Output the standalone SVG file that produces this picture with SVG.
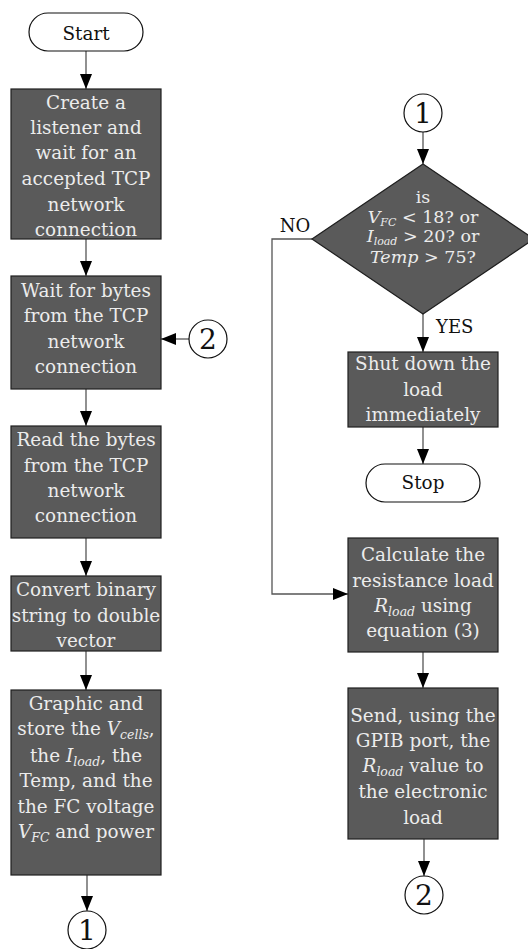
<svg xmlns="http://www.w3.org/2000/svg" width="528" height="949" viewBox="0 0 528 949" font-family="'DejaVu Serif', serif">
  <style>
    .term { fill: #ffffff; stroke: #111; stroke-width: 1.2; }
    .box { fill: #5a5a5a; stroke: #1e1e1e; stroke-width: 1.2; }
    .conn { fill: #ffffff; stroke: #111; stroke-width: 1.2; }
    .edge { fill: none; stroke: #555; stroke-width: 1.3; }
    .t { font-size: 18.4px; text-anchor: middle; }
    .d { font-size: 17.5px; text-anchor: middle; }
    .w { fill: #ececec; }
    .k { fill: #111; }
    .num { font-size: 28px; text-anchor: middle; fill: #111; }
    .lbl { font-size: 18px; fill: #111; }
    .m { font-style: italic; }
    .s { font-style: italic; font-size: 12.5px; }
    .ds { font-style: italic; font-size: 11px; }
  </style>
  <defs>
    <marker id="arrow" markerUnits="userSpaceOnUse" markerWidth="16" markerHeight="13" refX="15" refY="6" orient="auto">
      <path d="M0,0 L15,6 L0,12 z" fill="#000"/>
    </marker>
  </defs>

  <!-- connectors -->
  <g id="connectors">
    <line class="edge" x1="86" y1="51" x2="86" y2="89" marker-end="url(#arrow)"/>
    <line class="edge" x1="86" y1="239" x2="86" y2="276" marker-end="url(#arrow)"/>
    <line class="edge" x1="189" y1="339" x2="161" y2="339" marker-end="url(#arrow)"/>
    <line class="edge" x1="86" y1="389" x2="86" y2="426" marker-end="url(#arrow)"/>
    <line class="edge" x1="86" y1="538" x2="86" y2="576" marker-end="url(#arrow)"/>
    <line class="edge" x1="86" y1="651" x2="86" y2="690" marker-end="url(#arrow)"/>
    <line class="edge" x1="87" y1="875" x2="87" y2="911" marker-end="url(#arrow)"/>
    <line class="edge" x1="423" y1="132" x2="423" y2="164" marker-end="url(#arrow)"/>
    <line class="edge" x1="423" y1="314" x2="423" y2="352" marker-end="url(#arrow)"/>
    <line class="edge" x1="423" y1="427" x2="423" y2="464" marker-end="url(#arrow)"/>
    <polyline class="edge" points="312,239 272,239 272,594 348,594" marker-end="url(#arrow)"/>
    <line class="edge" x1="423" y1="652" x2="423" y2="688" marker-end="url(#arrow)"/>
    <line class="edge" x1="424" y1="839" x2="424" y2="876" marker-end="url(#arrow)"/>
    <text class="lbl" x="295" y="232" text-anchor="middle">NO</text>
    <text class="lbl" x="436" y="333">YES</text>
  </g>

  <g id="start">
    <rect class="term" x="29" y="13" width="114" height="38" rx="19"/>
    <text class="t k" x="86" y="40">Start</text>
  </g>

  <g id="listen">
    <rect class="box" x="11" y="89" width="150" height="150"/>
    <text class="t w" x="86" y="109">Create a</text>
    <text class="t w" x="86" y="134">listener and</text>
    <text class="t w" x="86" y="159">wait for an</text>
    <text class="t w" x="86" y="185">accepted TCP</text>
    <text class="t w" x="86" y="211">network</text>
    <text class="t w" x="86" y="236">connection</text>
  </g>

  <g id="wait">
    <rect class="box" x="11" y="276" width="150" height="113"/>
    <text class="t w" x="86" y="297">Wait for bytes</text>
    <text class="t w" x="86" y="322">from the TCP</text>
    <text class="t w" x="86" y="348">network</text>
    <text class="t w" x="86" y="373">connection</text>
  </g>

  <g id="conn2-in">
    <circle class="conn" cx="208" cy="339" r="19"/>
    <text class="num" x="208" y="349">2</text>
  </g>

  <g id="read">
    <rect class="box" x="11" y="426" width="150" height="112"/>
    <text class="t w" x="86" y="446">Read the bytes</text>
    <text class="t w" x="86" y="472">from the TCP</text>
    <text class="t w" x="86" y="497">network</text>
    <text class="t w" x="86" y="522">connection</text>
  </g>

  <g id="convert">
    <rect class="box" x="11" y="576" width="150" height="75"/>
    <text class="t w" x="86" y="596">Convert binary</text>
    <text class="t w" x="86" y="622">string to double</text>
    <text class="t w" x="86" y="647">vector</text>
  </g>

  <g id="store">
    <rect class="box" x="11" y="690" width="150" height="185"/>
    <text class="t w" x="86" y="710">Graphic and</text>
    <text class="t w" x="86" y="735">store the <tspan class="m">V</tspan><tspan class="s" dy="4">cells</tspan><tspan dy="-4">,</tspan></text>
    <text class="t w" x="86" y="762">the <tspan class="m">I</tspan><tspan class="s" dy="4">load</tspan><tspan dy="-4">, the</tspan></text>
    <text class="t w" x="86" y="787">Temp, and the</text>
    <text class="t w" x="86" y="813">the FC voltage</text>
    <text class="t w" x="86" y="838"><tspan class="m">V</tspan><tspan class="s" dy="4">FC</tspan><tspan dy="-4"> and power</tspan></text>
  </g>

  <g id="conn1-out">
    <circle class="conn" cx="87" cy="930" r="19"/>
    <text class="num" x="87" y="940">1</text>
  </g>

  <g id="conn1-in">
    <circle class="conn" cx="423" cy="113" r="19"/>
    <text class="num" x="423" y="123">1</text>
  </g>

  <g id="check">
    <polygon class="box" points="423,164 534,239 423,314 312,239"/>
    <text class="d w" x="423" y="203">is</text>
    <text class="d w" x="423" y="223"><tspan class="m">V</tspan><tspan class="ds" dy="3">FC</tspan><tspan dy="-3"> &lt; 18? or</tspan></text>
    <text class="d w" x="423" y="242"><tspan class="m">I</tspan><tspan class="ds" dy="2.5">load</tspan><tspan dy="-2.5"> &gt; 20? or</tspan></text>
    <text class="d w" x="423" y="263"><tspan class="m">Temp</tspan> &gt; 75?</text>
  </g>

  <g id="shutdown">
    <rect class="box" x="348" y="352" width="150" height="75"/>
    <text class="t w" x="423" y="370">Shut down the</text>
    <text class="t w" x="423" y="396">load</text>
    <text class="t w" x="423" y="421">immediately</text>
  </g>

  <g id="stop">
    <rect class="term" x="366" y="464" width="114" height="38" rx="19"/>
    <text class="t k" x="423" y="489">Stop</text>
  </g>

  <g id="calculate">
    <rect class="box" x="348" y="538" width="150" height="114"/>
    <text class="t w" x="423" y="561">Calculate the</text>
    <text class="t w" x="423" y="587">resistance load</text>
    <text class="t w" x="423" y="612"><tspan class="m">R</tspan><tspan class="s" dy="4">load</tspan><tspan dy="-4"> using</tspan></text>
    <text class="t w" x="423" y="637">equation (3)</text>
  </g>

  <g id="send">
    <rect class="box" x="348" y="688" width="150" height="151"/>
    <text class="t w" x="423" y="722">Send, using the</text>
    <text class="t w" x="423" y="747">GPIB port, the</text>
    <text class="t w" x="423" y="772"><tspan class="m">R</tspan><tspan class="s" dy="4">load</tspan><tspan dy="-4"> value to</tspan></text>
    <text class="t w" x="423" y="798">the electronic</text>
    <text class="t w" x="423" y="824">load</text>
  </g>

  <g id="conn2-out">
    <circle class="conn" cx="424" cy="895" r="19"/>
    <text class="num" x="424" y="905">2</text>
  </g>
</svg>
